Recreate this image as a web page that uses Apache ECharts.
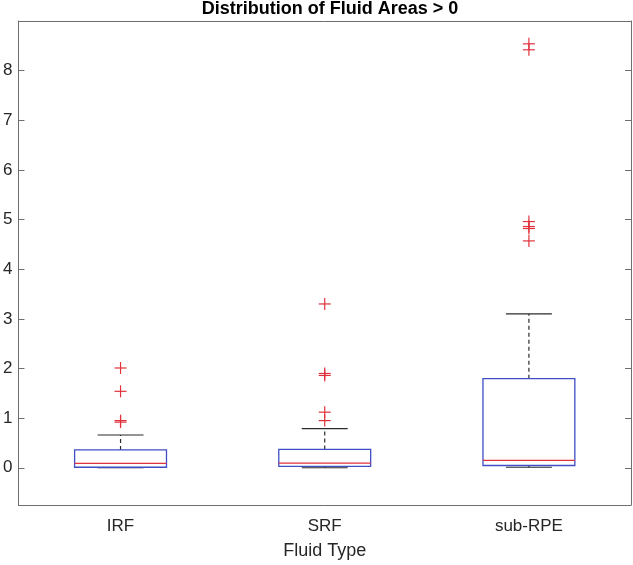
<!DOCTYPE html>
<html>
<head>
<meta charset="utf-8">
<script src="https://cdn.jsdelivr.net/npm/echarts@6/dist/echarts.min.js"></script>
<style>html,body{margin:0;padding:0;background:#fff;}#c{width:633px;height:565px;}</style>
</head>
<body>
<div id="c"></div>
<script>
var categories = ['IRF', 'SRF', 'sub-RPE'];
var lowerWhisker = [0.0, 0.0, 0.01];
var q1 = [0.01, 0.03, 0.046];
var medians = [0.087, 0.094, 0.147];
var q3 = [0.36, 0.37, 1.795];
var upperWhisker = [0.66, 0.79, 3.10];
var outliersIRF = [2.01, 1.54, 0.95, 0.92];
var outliersSRF = [3.30, 1.90, 1.86, 1.12, 0.95];
var outliersSubRPE = [8.54, 8.42, 4.96, 4.86, 4.82, 4.57];
var yTickValues = [0, 1, 2, 3, 4, 5, 6, 7, 8];
var yMin = -0.75, yMax = 9.0;

var boxData = categories.map(function (c, i) {
  return [i, lowerWhisker[i], q1[i], medians[i], q3[i], upperWhisker[i]];
});
var outlierData = [];
[outliersIRF, outliersSRF, outliersSubRPE].forEach(function (arr, i) {
  arr.forEach(function (v) { outlierData.push([i, v]); });
});

var BLUE = '#3f4fc6', RED = '#e0323c', BLACK = '#2b2b2b', AX = '#6e6e6e', TXT = '#262626';
var FONT = '"Liberation Sans", Arial, Helvetica, sans-serif';

var chart = echarts.init(document.getElementById('c'), null, {renderer: 'canvas'});
chart.setOption({
  animation: false,
  backgroundColor: '#ffffff',
  title: {
    text: 'Distribution of Fluid Areas > 0',
    left: 325, top: -5, textAlign: 'center',
    textStyle: {fontFamily: FONT, fontWeight: 'bold', fontSize: 18, color: '#000'}
  },
  grid: {left: 18, right: 2, top: 21, bottom: 59, containLabel: false},
  xAxis: [{
    type: 'category', data: categories, position: 'bottom',
    boundaryGap: true,
    name: 'Fluid Type', nameLocation: 'middle', nameGap: 37,
    nameTextStyle: {fontFamily: FONT, fontSize: 18, color: TXT},
    axisLine: {onZero: false, lineStyle: {color: AX, width: 1}},
    axisTick: {inside: true, alignWithLabel: true, length: 6, lineStyle: {color: AX}},
    axisLabel: {fontFamily: FONT, fontSize: 17, color: TXT, margin: 13},
    splitLine: {show: false}
  }, {
    type: 'category', data: categories, position: 'top',
    boundaryGap: true,
    axisLine: {onZero: false, lineStyle: {color: AX, width: 1}},
    axisTick: {inside: true, alignWithLabel: true, length: 6, lineStyle: {color: AX}},
    axisLabel: {show: false},
    splitLine: {show: false}
  }],
  yAxis: [{
    type: 'value', min: yMin, max: yMax, position: 'left',
    axisLine: {show: true, onZero: false, lineStyle: {color: AX, width: 1}},
    axisTick: {show: true, inside: true, length: 6, customValues: yTickValues, lineStyle: {color: AX}},
    axisLabel: {fontFamily: FONT, fontSize: 17, color: TXT, margin: 6, customValues: yTickValues},
    splitLine: {show: false}
  }, {
    type: 'value', min: yMin, max: yMax, position: 'right',
    axisLine: {show: true, onZero: false, lineStyle: {color: AX, width: 1}},
    axisTick: {show: true, inside: true, length: 6, customValues: yTickValues, lineStyle: {color: AX}},
    axisLabel: {show: false},
    splitLine: {show: false}
  }],
  series: [{
    type: 'custom',
    name: 'box',
    xAxisIndex: 0, yAxisIndex: 0,
    data: boxData,
    encode: {x: 0, y: [1, 2, 3, 4, 5]},
    renderItem: function (params, api) {
      var idx = api.value(0);
      var bw = api.size([1, 0])[0] * 0.45;
      var cap = bw * 0.5;
      var pMin = api.coord([idx, api.value(1)]);
      var pQ1 = api.coord([idx, api.value(2)]);
      var pMed = api.coord([idx, api.value(3)]);
      var pQ3 = api.coord([idx, api.value(4)]);
      var pMax = api.coord([idx, api.value(5)]);
      var cx = pMed[0];
      return {
        type: 'group',
        children: [
          {type: 'line', shape: {x1: cx, y1: pQ3[1], x2: cx, y2: pMax[1]},
           style: {stroke: BLACK, lineWidth: 1.2, lineDash: [4, 3]}},
          {type: 'line', shape: {x1: cx, y1: pQ1[1], x2: cx, y2: pMin[1]},
           style: {stroke: BLACK, lineWidth: 1.2, lineDash: [4, 3]}},
          {type: 'line', shape: {x1: cx - cap / 2, y1: pMax[1], x2: cx + cap / 2, y2: pMax[1]},
           style: {stroke: BLACK, lineWidth: 1.2}},
          {type: 'line', shape: {x1: cx - cap / 2, y1: pMin[1], x2: cx + cap / 2, y2: pMin[1]},
           style: {stroke: BLACK, lineWidth: 1.2}},
          {type: 'rect', shape: {x: cx - bw / 2, y: pQ3[1], width: bw, height: pQ1[1] - pQ3[1]},
           style: {fill: 'none', stroke: BLUE, lineWidth: 1.3}},
          {type: 'line', shape: {x1: cx - bw / 2, y1: pMed[1], x2: cx + bw / 2, y2: pMed[1]},
           style: {stroke: RED, lineWidth: 1.3}}
        ]
      };
    }
  }, {
    type: 'custom',
    name: 'outliers',
    xAxisIndex: 0, yAxisIndex: 0,
    data: outlierData,
    encode: {x: 0, y: 1},
    renderItem: function (params, api) {
      var p = api.coord([api.value(0), api.value(1)]);
      var h = 6;
      return {
        type: 'group',
        children: [
          {type: 'line', shape: {x1: p[0] - h, y1: p[1], x2: p[0] + h, y2: p[1]},
           style: {stroke: RED, lineWidth: 1.2}},
          {type: 'line', shape: {x1: p[0], y1: p[1] - h, x2: p[0], y2: p[1] + h},
           style: {stroke: RED, lineWidth: 1.2}}
        ]
      };
    }
  }]
});
</script>
</body>
</html>
